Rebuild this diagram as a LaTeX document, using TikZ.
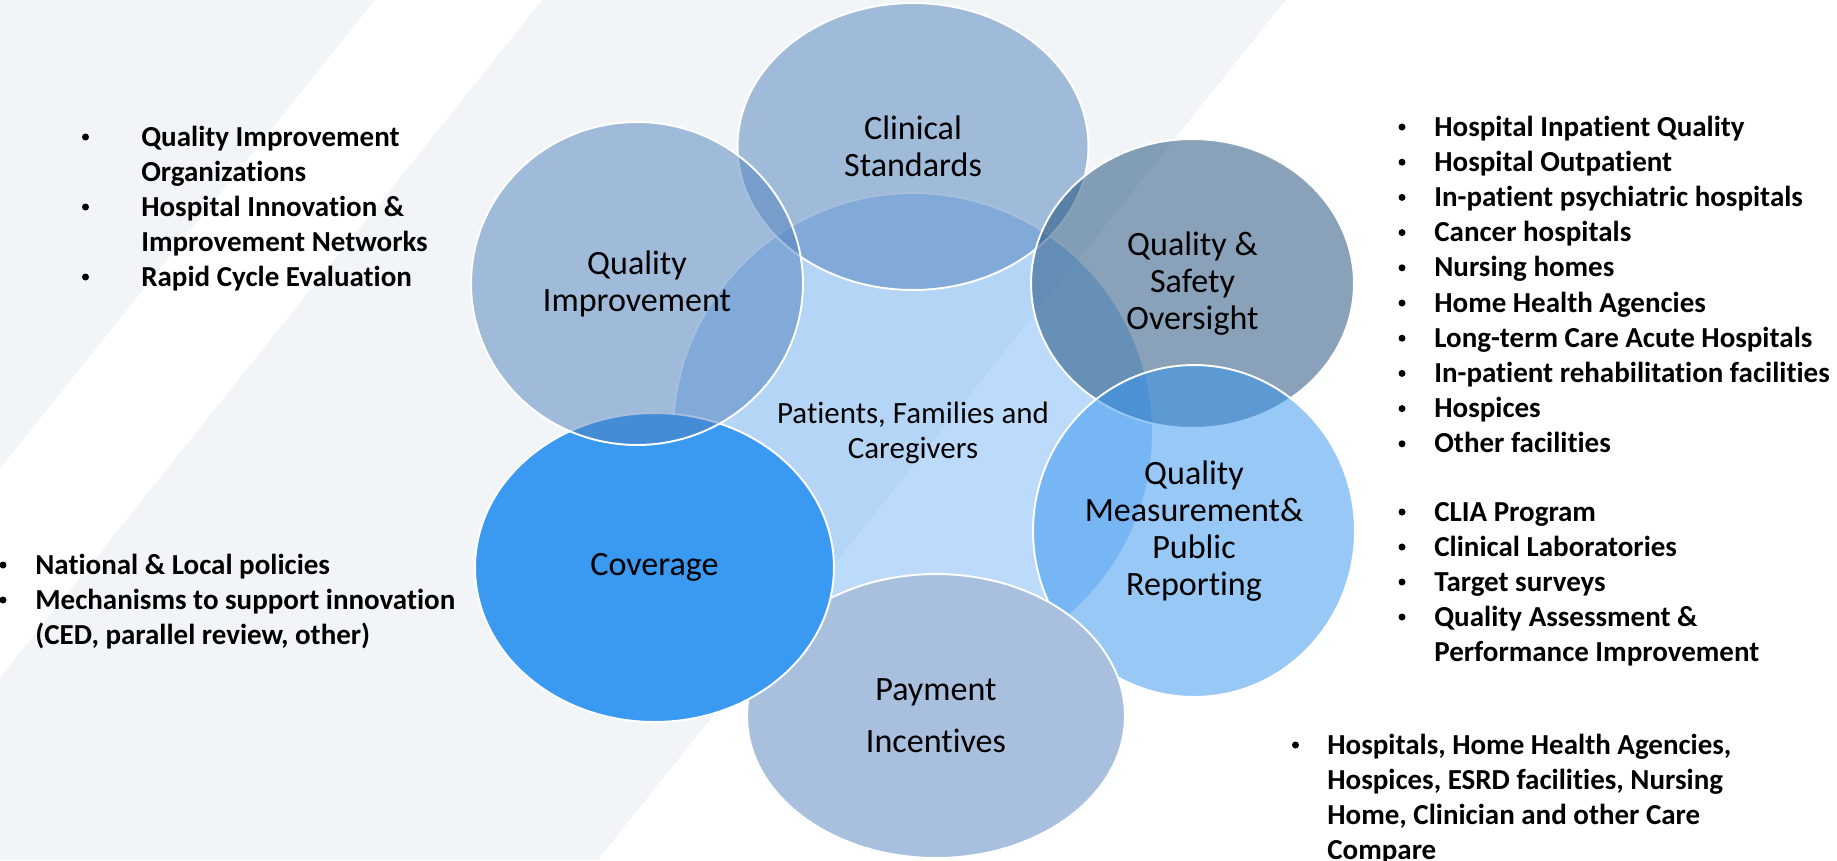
\documentclass[tikz,border=0pt]{standalone}
\usepackage{fontspec}
\setmainfont{Carlito}[Ligatures=NoCommon]
\usetikzlibrary{shapes.geometric}

\definecolor{bggray}{HTML}{F2F5F8}
\definecolor{qiblue}{HTML}{4F81BD}
\definecolor{ctrblue}{HTML}{7AB7F6}
\definecolor{qsoblue}{HTML}{144776}
\definecolor{qmblue}{HTML}{3393EF}
\definecolor{payblue}{HTML}{A8C0DD}
\definecolor{covblue}{HTML}{3A99F1}

\begin{document}
\begin{tikzpicture}[x=0.02cm,y=-0.02cm,
	venn/.style={ellipse,draw=white,line width=1.1pt,inner sep=0pt,align=center,
		text opacity=1,font=\fontsize{19.4}{21}\selectfont},
	item/.style={anchor=base west,inner sep=0pt,font=\bfseries\fontsize{16.5}{19.9}\selectfont},
	bul/.style={circle,fill=black,inner sep=0pt,minimum size=0.14cm}]

	\useasboundingbox (0,0) rectangle (1837,860);

	% backdrop with the light stripes
	\fill[bggray] (0,0) rectangle (1837,860);
	\begin{scope}
	\clip (0,0) rectangle (1837,860);
	\fill[white] (375,0) -- (542,0) -- (-146,860) -- (-313,860) -- cycle;
	\fill[white] (1286,0) -- (1837,0) -- (1837,860) -- (598,860) -- cycle;
	\end{scope}

	% the circles, back to front
	\node[venn,fill=ctrblue,fill opacity=.5,minimum width=9.6cm,minimum height=9.6cm,
		font=\fontsize{17.6}{19.9}\selectfont] (pfc) at (913,433) {Patients, Families and\\Caregivers};
	\node[venn,fill=qiblue,fill opacity=.5,minimum width=7.02cm,minimum height=5.74cm] (cs) at (913,146.5) {Clinical\\Standards};
	\node[venn,fill=qsoblue,fill opacity=.5,minimum width=6.46cm,minimum height=5.78cm] (qso) at (1192.5,283.5) {Quality \&\\Safety\\Oversight};
	\node[venn,fill=qmblue,fill opacity=.5,minimum width=6.44cm,minimum height=6.64cm] (qm) at (1194,531) {Quality\\Measurement\&\\Public\\Reporting};
	\node[venn,fill=payblue,minimum width=7.56cm,minimum height=5.68cm,
		font=\fontsize{19.4}{29.6}\selectfont] (pay) at (936,716) {Payment\\Incentives};
	\node[venn,fill=covblue,minimum width=7.18cm,minimum height=6.18cm] (cov) at (654.5,567.5) {Coverage};
	\node[venn,fill=qiblue,fill opacity=.5,minimum width=6.64cm,minimum height=6.46cm] (qi) at (637,283.5) {Quality\\Improvement};

	% upper left list
	\node[bul] (lb1) at (85.5,137) {};
	\node[item] (lt1) at (141,146) {Quality Improvement};
	\node[item] (lt2) at (141,181) {Organizations};
	\node[bul] (lb2) at (85.5,207) {};
	\node[item] (lt3) at (141,216) {Hospital Innovation \&};
	\node[item] (lt4) at (141,251) {Improvement Networks};
	\node[bul] (lb3) at (85.5,277) {};
	\node[item] (lt5) at (141,286) {Rapid Cycle Evaluation};

	% lower left list
	\node[bul] (cb1) at (3,565) {};
	\node[item] (ct1) at (35,574) {National \& Local policies};
	\node[bul] (cb2) at (3,600) {};
	\node[item] (ct2) at (35,609) {Mechanisms to support innovation};
	\node[item] (ct3) at (35,644) {(CED, parallel review, other)};

	% right list
	\node[bul] (rb1) at (1402,127) {};
	\node[item] (rt1) at (1434,136) {Hospital Inpatient Quality};
	\node[bul] (rb2) at (1402,162.2) {};
	\node[item] (rt2) at (1434,171.2) {Hospital Outpatient};
	\node[bul] (rb3) at (1402,197.4) {};
	\node[item] (rt3) at (1434,206.4) {In-patient psychiatric hospitals};
	\node[bul] (rb4) at (1402,232.6) {};
	\node[item] (rt4) at (1434,241.6) {Cancer hospitals};
	\node[bul] (rb5) at (1402,267.8) {};
	\node[item] (rt5) at (1434,276.8) {Nursing homes};
	\node[bul] (rb6) at (1402,303) {};
	\node[item] (rt6) at (1434,312) {Home Health Agencies};
	\node[bul] (rb7) at (1402,338.2) {};
	\node[item] (rt7) at (1434,347.2) {Long-term Care Acute Hospitals};
	\node[bul] (rb8) at (1402,373.4) {};
	\node[item] (rt8) at (1434,382.4) {In-patient rehabilitation facilities};
	\node[bul] (rb9) at (1402,408.6) {};
	\node[item] (rt9) at (1434,417.6) {Hospices};
	\node[bul] (rb10) at (1402,443.8) {};
	\node[item] (rt10) at (1434,452.8) {Other facilities};

	\node[bul] (sb1) at (1402,512) {};
	\node[item] (st1) at (1434,521) {CLIA Program};
	\node[bul] (sb2) at (1402,547) {};
	\node[item] (st2) at (1434,556) {Clinical Laboratories};
	\node[bul] (sb3) at (1402,582) {};
	\node[item] (st3) at (1434,591) {Target surveys};
	\node[bul] (sb4) at (1402,617) {};
	\node[item] (st4) at (1434,626) {Quality Assessment \&};
	\node[item] (st5) at (1434,661) {Performance Improvement};

	% lower right list
	\node[bul] (pb1) at (1295.5,745) {};
	\node[item] (pt1) at (1327,754) {Hospitals, Home Health Agencies,};
	\node[item] (pt2) at (1327,789) {Hospices, ESRD facilities, Nursing};
	\node[item] (pt3) at (1327,824) {Home, Clinician and other Care};
	\node[item] (pt4) at (1327,859) {Compare};

\end{tikzpicture}
\end{document}
